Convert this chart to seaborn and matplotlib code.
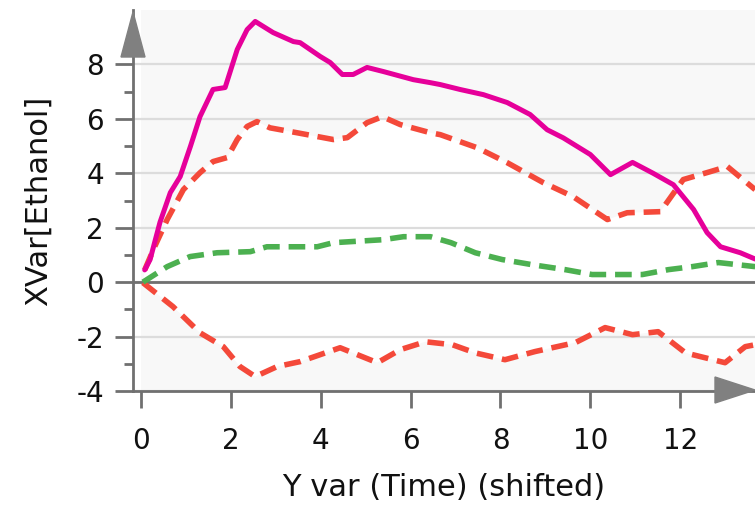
import matplotlib
matplotlib.use("Agg")
import matplotlib.pyplot as plt
from matplotlib.patches import Polygon
import seaborn as sns
import pandas as pd

# values
mean_t = [0.08, 0.2, 0.42, 0.65, 0.87, 1.1, 1.31, 1.6, 1.87, 2.14, 2.36, 2.54, 2.94, 3.39, 3.54,
          3.99, 4.21, 4.48, 4.72, 5.03, 5.39, 6.06, 6.44, 6.66, 7.1, 7.62, 8.15, 8.66, 9.04, 9.4,
          10.0, 10.45, 10.94, 11.4, 11.85, 12.3, 12.6, 12.9, 13.34, 13.67]
mean_v = [0.45, 0.83, 2.2, 3.29, 3.88, 5.0, 6.08, 7.08, 7.15, 8.55, 9.28, 9.58, 9.17, 8.84, 8.8,
          8.29, 8.07, 7.63, 7.63, 7.89, 7.74, 7.44, 7.33, 7.26, 7.08, 6.89, 6.6, 6.16, 5.6, 5.3,
          4.69, 3.95, 4.4, 4.0, 3.58, 2.67, 1.82, 1.3, 1.08, 0.85]

upper_t = [0.08, 0.3, 0.58, 0.94, 1.31, 1.6, 1.92, 2.14, 2.36, 2.58, 2.87, 3.47, 4.28, 4.59, 5.03,
           5.37, 5.77, 6.44, 6.66, 7.48, 8.15, 8.95, 9.62, 10.38, 10.82, 11.56, 12.07, 12.67, 13.05, 13.67]
upper_v = [0.45, 1.3, 2.3, 3.4, 4.02, 4.43, 4.58, 5.24, 5.72, 5.9, 5.67, 5.49, 5.24, 5.31, 5.86,
           6.08, 5.79, 5.49, 5.42, 4.94, 4.39, 3.66, 3.14, 2.3, 2.55, 2.59, 3.77, 4.06, 4.25, 3.4]

lower_t = [0.04, 0.71, 1.31, 1.83, 2.2, 2.54, 3.03, 3.54, 4.43, 5.26, 5.77, 6.33, 6.93, 7.44, 8.1,
           8.77, 9.67, 10.33, 10.94, 11.51, 12.12, 13.0, 13.45, 13.67]
lower_v = [-0.02, -0.9, -1.86, -2.37, -3.1, -3.47, -3.1, -2.92, -2.41, -2.96, -2.48, -2.19, -2.3,
           -2.6, -2.85, -2.55, -2.22, -1.67, -1.93, -1.82, -2.6, -2.96, -2.37, -2.3]

green_t = [0.04, 0.58, 1.09, 1.69, 2.43, 2.8, 3.92, 4.28, 5.39, 5.84, 6.44, 6.9, 7.44, 8.04, 8.71,
           9.44, 10.04, 11.16, 11.74, 12.27, 12.85, 13.67]
green_v = [0.0, 0.57, 0.94, 1.08, 1.12, 1.3, 1.3, 1.45, 1.56, 1.67, 1.67, 1.45, 1.08, 0.83, 0.64,
           0.46, 0.28, 0.28, 0.46, 0.57, 0.72, 0.57]

x_ticks = [0, 2, 4, 6, 8, 10, 12]
y_ticks = [-4, -2, 0, 2, 4, 6, 8]
y_minor = [-3, -1, 1, 3, 5, 7]

RED = "#f4493a"
GREEN = "#4cb050"
MAGENTA = "#e6009a"
AXIS = "#707070"
TEXT = "#111111"

sns.set_theme(style="white")
plt.rcParams["font.family"] = ["DejaVu Sans"]
plt.rcParams["axes.unicode_minus"] = False

df = pd.concat([
    pd.DataFrame({"t": upper_t, "v": upper_v, "series": "upper"}),
    pd.DataFrame({"t": lower_t, "v": lower_v, "series": "lower"}),
    pd.DataFrame({"t": green_t, "v": green_v, "series": "green"}),
])

fig = plt.figure(figsize=(7.55, 5.13), dpi=100)
ax = fig.add_axes([0.1762, 0.2378, 0.824, 0.7427])
ax.set_facecolor("#f8f8f8")
ax.set_axisbelow(True)

# white band between the two red curves, white strip left of t=0
ax.fill(upper_t + lower_t[::-1], upper_v + lower_v[::-1], color="white", lw=0, zorder=0.2)
ax.axvspan(-0.2, 0, color="white", lw=0, zorder=0.2)

ax.axhline(0, color=AXIS, lw=2, zorder=1)

sns.lineplot(data=df, x="t", y="v", hue="series", style="series",
             palette={"upper": RED, "lower": RED, "green": GREEN},
             dashes={"upper": (3, 1.6), "lower": (3, 1.6), "green": (3, 1.6)},
             lw=4, legend=False, estimator=None, sort=False, ax=ax, zorder=2)
sns.lineplot(x=mean_t, y=mean_v, color=MAGENTA, lw=3.6, estimator=None, sort=False, ax=ax, zorder=3)

ax.set_xlim(-0.18, 13.67)
ax.set_ylim(-4, 10)
ax.set_xticks(x_ticks)
ax.set_yticks(y_ticks)
ax.set_yticks(y_minor, minor=True)
ax.yaxis.grid(True, which="major", color="#dcdcdc", lw=1.6)
ax.xaxis.grid(False)

for side in ["top", "right"]:
    ax.spines[side].set_visible(False)
for side in ["left", "bottom"]:
    ax.spines[side].set_color(AXIS)
    ax.spines[side].set_linewidth(2)

ax.tick_params(axis="y", which="major", direction="out", length=13, width=2, color=AXIS,
               labelsize=20, pad=8, left=True, labelcolor=TEXT)
ax.tick_params(axis="y", which="minor", direction="out", length=6.5, width=2, color=AXIS, left=True)
ax.tick_params(axis="x", which="major", direction="out", length=12, width=2, color=AXIS,
               labelsize=20, pad=14, bottom=True, labelcolor=TEXT)

ax.set_xlabel("Y var (Time) (shifted)", fontsize=22, color=TEXT, labelpad=13)
ax.set_ylabel("XVar[Ethanol]", fontsize=22, color=TEXT, labelpad=17)

# arrow heads at the ends of the axes
W, H = 755.0, 513.0
def px(x, y):
    return (x / W, 1 - y / H)
fig.patches.append(Polygon([px(133, 12), px(121, 57), px(145, 57)], closed=True,
                           transform=fig.transFigure, color="#808080", zorder=5))
fig.patches.append(Polygon([px(755, 390), px(715, 377), px(715, 403)], closed=True,
                           transform=fig.transFigure, color="#808080", zorder=5))

fig.savefig("out.png", dpi=100)
